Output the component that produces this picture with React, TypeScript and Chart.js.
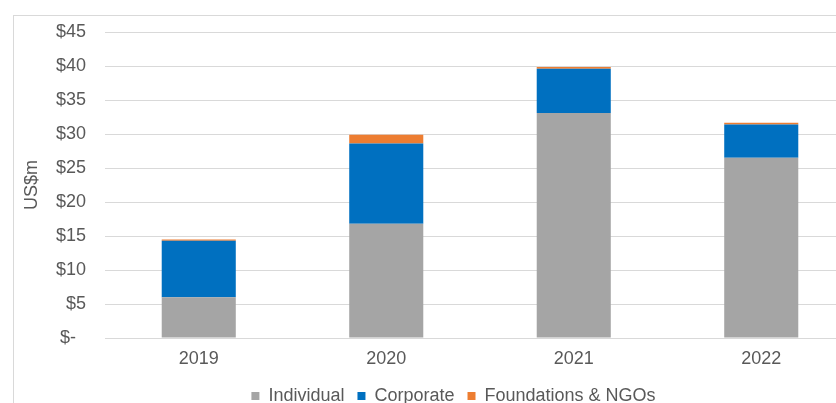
import React, { useEffect, useRef } from 'react';
import { Chart, registerables } from 'chart.js';

Chart.register(...registerables);

const categories = ['2019', '2020', '2021', '2022'];
const seriesNames = ['Individual', 'Corporate', 'Foundations & NGOs'];
const individual = [6.0, 16.8, 33.1, 26.5];
const corporate = [8.3, 11.8, 6.5, 4.9];
const foundations = [0.2, 1.3, 0.25, 0.25];
const yMin = 0;
const yMax = 45;
const yStep = 5;

const FONT = "'Liberation Sans', Arial, Helvetica, sans-serif";
const TEXT = '#595959';
const GRID = '#d9d9d9';

const legendShift = {
  id: 'legendShift',
  afterLayout(chart: any) {
    const lg = chart.legend;
    if (lg) {
      lg.left += 26;
      lg.right += 26;
    }
  },
};

export default function App() {
  const ref = useRef<HTMLCanvasElement | null>(null);

  useEffect(() => {
    if (!ref.current) return;
    const chart = new Chart(ref.current, {
      type: 'bar',
      data: {
        labels: categories,
        datasets: [
          { label: seriesNames[0], data: individual, backgroundColor: '#a5a5a5' },
          { label: seriesNames[1], data: corporate, backgroundColor: '#0070c0' },
          { label: seriesNames[2], data: foundations, backgroundColor: '#ed7d31' },
        ],
      },
      options: {
        responsive: false,
        animation: false,
        devicePixelRatio: 1,
        layout: { padding: { top: 32, left: 0, right: 0, bottom: 0 } },
        datasets: {
          bar: { categoryPercentage: 1, barPercentage: 0.395, borderWidth: 0 },
        },
        scales: {
          x: {
            stacked: true,
            grid: { display: false },
            border: { display: true, color: GRID, width: 1 },
            ticks: { color: TEXT, font: { family: FONT, size: 18 }, padding: 2 },
            afterFit: (s: any) => { s.height = 36; },
          },
          y: {
            stacked: true,
            min: yMin,
            max: yMax,
            ticks: {
              stepSize: yStep,
              color: TEXT,
              font: { family: FONT, size: 18 },
              padding: 19,
              callback: (v: any) => (Number(v) === 0 ? '$-  ' : '$' + v),
            },
            grid: { color: GRID, drawTicks: false, lineWidth: 1 },
            border: { display: false },
            title: {
              display: true,
              text: 'US$m',
              color: TEXT,
              font: { family: FONT, size: 18 },
              padding: { top: 21, bottom: 0 },
            },
            afterFit: (s: any) => { s.width = 105; },
          },
        },
        plugins: {
          legend: {
            position: 'bottom',
            labels: {
              color: TEXT,
              font: { family: FONT, size: 18 },
              boxWidth: 8,
              boxHeight: 8,
              padding: 13,
            },
          },
          tooltip: { enabled: false },
        },
      },
      plugins: [legendShift],
    } as any);
    return () => chart.destroy();
  }, []);

  return (
    <div style={{ position: 'fixed', left: 0, top: 0, width: 836, height: 403, overflow: 'hidden', background: '#fff' }}>
      <div style={{ position: 'absolute', left: 13, top: 15, width: 900, height: 500, border: '1px solid #d9d9d9' }} />
      <canvas ref={ref} width={855} height={415} style={{ position: 'absolute', left: 0, top: 0, width: 855, height: 415 }} />
    </div>
  );
}
